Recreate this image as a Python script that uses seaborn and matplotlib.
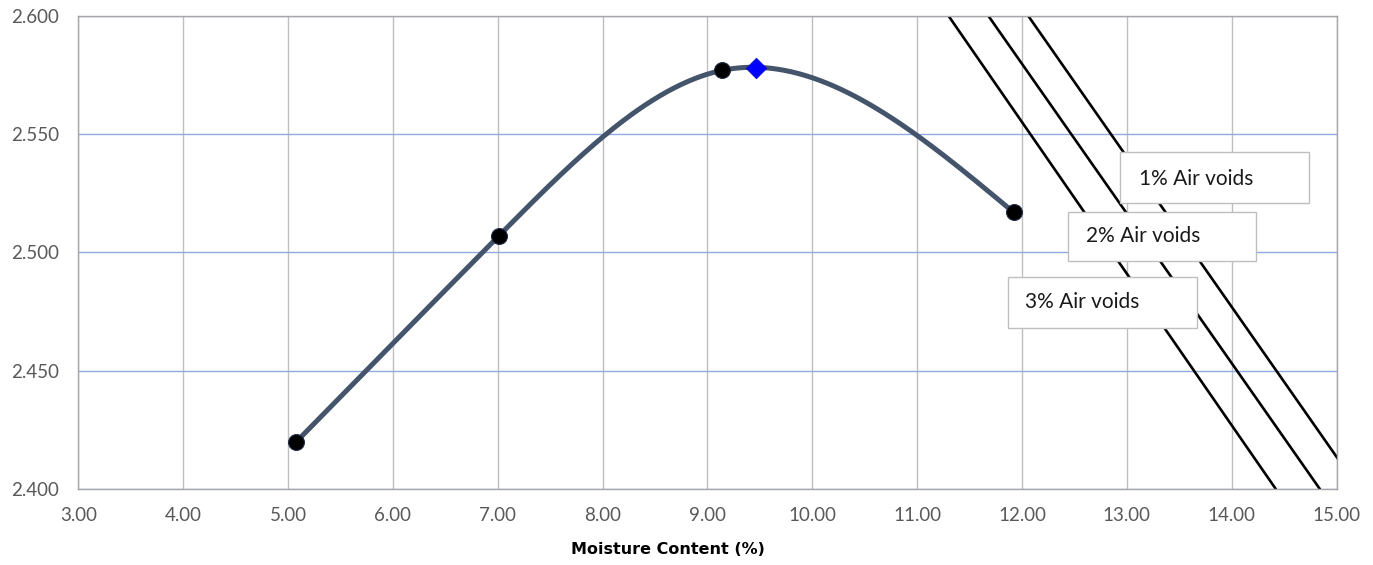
import numpy as np
import pandas as pd
import matplotlib
matplotlib.use("Agg")
import matplotlib.pyplot as plt
import seaborn as sns
from matplotlib.patches import Rectangle

# ---- data ----
moisture = [5.08, 7.01, 9.14, 11.92]
density = [2.420, 2.507, 2.577, 2.517]
opt_moisture = [9.46]
opt_density = [2.578]

void_labels = ["3% Air voids", "2% Air voids", "1% Air voids"]
void_x = [[11.30, 14.42], [11.68, 14.84], [12.06, 15.02]]
void_y = [[2.600, 2.400], [2.600, 2.400], [2.600, 2.4123]]

x_ticks = [3, 4, 5, 6, 7, 8, 9, 10, 11, 12, 13, 14, 15]
y_ticks = [2.400, 2.450, 2.500, 2.550, 2.600]
x_label = "Moisture Content (%)"


def natural_spline(xs, ys, n=400):
    """Natural cubic spline drawn through the measured points."""
    x = np.asarray(xs, float)
    y = np.asarray(ys, float)
    k = len(x)
    h = np.diff(x)
    d = np.diff(y) / h
    A = np.zeros((k, k))
    r = np.zeros(k)
    A[0, 0] = A[-1, -1] = 1.0
    for i in range(1, k - 1):
        A[i, i - 1] = h[i - 1]
        A[i, i] = 2 * (h[i - 1] + h[i])
        A[i, i + 1] = h[i]
        r[i] = 6 * (d[i] - d[i - 1])
    M = np.linalg.solve(A, r)
    xx = np.linspace(x[0], x[-1], n)
    idx = np.clip(np.searchsorted(x, xx) - 1, 0, k - 2)
    x0, x1 = x[idx], x[idx + 1]
    hh = x1 - x0
    a = (x1 - xx) / hh
    b = (xx - x0) / hh
    yy = (a * y[idx] + b * y[idx + 1]
          + ((a ** 3 - a) * M[idx] + (b ** 3 - b) * M[idx + 1]) * hh ** 2 / 6)
    return xx, yy


sns.set_theme(style="white")
plt.rcParams['font.family'] = ['Lato', 'DejaVu Sans']

fig = plt.figure(figsize=(13.73, 5.65), dpi=100)
ax = fig.add_axes([0.057, 0.1345, 0.9165, 0.8372])

# gridlines
for xv in x_ticks:
    ax.axvline(xv, color="#BFBFBF", lw=1.0, zorder=0)
for yv in y_ticks:
    ax.axhline(yv, color="#8FAADC", lw=1.0, zorder=0)

# air-void lines
for xs, ys in zip(void_x, void_y):
    sns.lineplot(x=xs, y=ys, ax=ax, color="black", lw=1.9, zorder=2, sort=False)

# smoothed compaction curve through the measured points
cx, cy = natural_spline(moisture, density)
curve = pd.DataFrame({"w": cx, "rho": cy})
sns.lineplot(data=curve, x="w", y="rho", ax=ax, color="#44546A", lw=3.6, zorder=3,
             sort=False, estimator=None)

sns.scatterplot(x=moisture, y=density, ax=ax, color="black", s=130,
                edgecolor="#1F2A44", linewidth=0.8, zorder=4)
sns.scatterplot(x=opt_moisture, y=opt_density, ax=ax, marker="D", color="#0000FF",
                s=110, edgecolor="#0000CC", linewidth=0.5, zorder=5)

ax.set_xlim(3, 15)
ax.set_ylim(2.400, 2.600)
ax.set_xticks(x_ticks)
ax.set_yticks(y_ticks)
ax.set_xticklabels([f"{v:.2f}" for v in x_ticks])
ax.set_yticklabels([f"{v:.3f}" for v in y_ticks])
ax.tick_params(axis="both", length=0, labelsize=13.5, colors="#595959")
ax.tick_params(axis="y", pad=14)
ax.tick_params(axis="x", pad=13)
for s in ax.spines.values():
    s.set_color("#A6A6A6")
    s.set_linewidth(1.0)
ax.set_ylabel("")
ax.set_xlabel(x_label, fontsize=11.5, fontweight="bold", color="black",
              family=["DejaVu Sans"])
ax.xaxis.set_label_coords(0.4686, -0.113)

# label boxes (axes coordinates)
boxes = [
    (0.739, 0.341, 0.8887, 0.4488, 0.7523, 0.3953),
    (0.7867, 0.4827, 0.9356, 0.5862, 0.8008, 0.5349),
    (0.828, 0.6047, 0.978, 0.712, 0.843, 0.6554),
]
for lab, (x0, y0, x1, y1, tx, ty) in zip(void_labels, boxes):
    ax.add_patch(Rectangle((x0, y0), x1 - x0, y1 - y0, transform=ax.transAxes,
                           facecolor="white", edgecolor="#BFBFBF", lw=1.0, zorder=6))
    ax.text(tx, ty, lab, transform=ax.transAxes, fontsize=15, color="#1A1A1A",
            va="center", ha="left", zorder=7)

fig.savefig("out.png", dpi=100)
